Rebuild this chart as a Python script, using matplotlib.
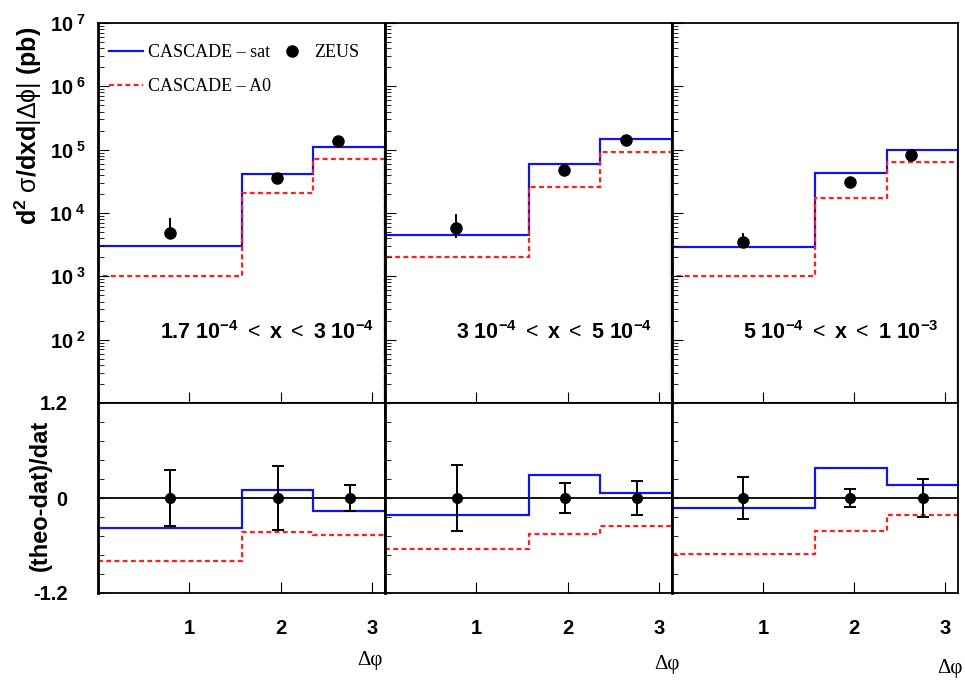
import matplotlib
matplotlib.use('Agg')
import matplotlib.pyplot as plt
from matplotlib.lines import Line2D
from matplotlib.ticker import FixedLocator, MultipleLocator, LogLocator, NullFormatter
import numpy as np

plt.rcParams['font.family'] = ['Liberation Sans', 'DejaVu Sans']
plt.rcParams['mathtext.fontset'] = 'custom'
plt.rcParams['mathtext.rm'] = 'Liberation Sans'
plt.rcParams['mathtext.bf'] = 'Liberation Sans:bold'
plt.rcParams['mathtext.it'] = 'Liberation Sans:italic'
plt.rcParams['mathtext.default'] = 'regular'

# delta phi bins
edges = [0, np.pi / 2, 3 * np.pi / 4, np.pi]

x_ranges = [r'$\mathbf{1.7\ 10^{-4}}\ <\ \mathbf{x}\ <\ \mathbf{3\ 10^{-4}}$',
            r'$\mathbf{3\ 10^{-4}}\ <\ \mathbf{x}\ <\ \mathbf{5\ 10^{-4}}$',
            r'$\mathbf{5\ 10^{-4}}\ <\ \mathbf{x}\ <\ \mathbf{1\ 10^{-3}}$']

# cross sections (pb)
sat_xsec = [[3.0e3, 4.2e4, 1.12e5], [4.5e3, 6.0e4, 1.49e5], [2.95e3, 4.3e4, 1.0e5]]
a0_xsec = [[1.0e3, 2.05e4, 7.1e4], [2.0e3, 2.6e4, 9.1e4], [1.0e3, 1.73e4, 6.5e4]]
zeus_x = [[0.79, 1.96, 2.63], [0.78, 1.96, 2.64], [0.78, 1.96, 2.62]]
zeus_val = [[4.8e3, 3.55e4, 1.35e5], [5.8e3, 4.7e4, 1.42e5], [3.5e3, 3.1e4, 8.3e4]]
zeus_hi = [[8.3e3, 4.1e4, 1.5e5], [9.6e3, 5.1e4, 1.55e5], [4.9e3, 3.4e4, 9.0e4]]
zeus_lo = [[3.9e3, 3.0e4, 1.2e5], [4.1e3, 4.3e4, 1.3e5], [2.9e3, 2.8e4, 7.6e4]]

# (theo-dat)/dat
sat_ratio = [[-0.38, 0.10, -0.17], [-0.21, 0.29, 0.06], [-0.12, 0.38, 0.17]]
a0_ratio = [[-0.79, -0.43, -0.47], [-0.65, -0.455, -0.35], [-0.71, -0.42, -0.22]]
ratio_x = [[0.79, 1.97, 2.76], [0.79, 1.97, 2.76], [0.78, 1.96, 2.76]]
ratio_err = [[0.35, 0.40, 0.17], [0.42, 0.19, 0.22], [0.27, 0.11, 0.24]]

decades = [1e1, 1e2, 1e3, 1e4, 1e5, 1e6, 1e7]
dec_labels = ['', r'$\mathbf{10^{\ 2}}$', r'$\mathbf{10^{\ 3}}$', r'$\mathbf{10^{\ 4}}$',
              r'$\mathbf{10^{\ 5}}$', r'$\mathbf{10^{\ 6}}$', r'$\mathbf{10^{\ 7}}$']

BLUE = '#1414e6'
RED = '#ff1e1e'
DASH = (0, (2.2, 1.5))

W, H = 965, 681
fig = plt.figure(figsize=(W / 100, H / 100), dpi=100)


def px_axes(x0, y0, x1, y1):
    return fig.add_axes([x0 / W, 1 - y1 / H, (x1 - x0) / W, (y1 - y0) / H])


xs = [98, 385, 672, 958]
for i in range(3):
    top = px_axes(xs[i], 23, xs[i + 1], 403)
    bot = px_axes(xs[i], 403, xs[i + 1], 593)

    # upper panel
    top.set_yscale('log')
    top.stairs(sat_xsec[i], edges, baseline=10, color=BLUE, lw=1.6)
    top.stairs(a0_xsec[i], edges, baseline=10, color=RED, lw=1.6, ls=DASH)
    v = np.array(zeus_val[i])
    yerr = [v - np.array(zeus_lo[i]), np.array(zeus_hi[i]) - v]
    top.errorbar(zeus_x[i], v, yerr=yerr, fmt='o', color='black', ms=8,
                 elinewidth=1.4, capsize=0, zorder=5)
    top.set_xlim(0, np.pi)
    top.set_ylim(10, 1e7)
    top.set_xticks([1, 2, 3])
    top.tick_params(axis='x', labelbottom=False, direction='in', length=8)
    top.yaxis.set_major_locator(FixedLocator(decades))
    top.yaxis.set_minor_locator(LogLocator(base=10, subs=np.arange(2, 10)))
    top.yaxis.set_minor_formatter(NullFormatter())
    top.tick_params(axis='y', which='major', direction='in', length=8, pad=9)
    top.tick_params(axis='y', which='minor', direction='in', length=4)
    if i == 0:
        top.set_yticklabels(dec_labels, fontsize=14.5)
    else:
        top.set_yticklabels([''] * len(decades))
    top.text(0.59, 0.185, x_ranges[i], transform=top.transAxes, ha='center',
             va='center', fontsize=15.5)

    # lower panel
    bot.axhline(0, color='black', lw=1.3)
    bot.stairs(sat_ratio[i], edges, baseline=None, color=BLUE, lw=1.6)
    bot.stairs(a0_ratio[i], edges, baseline=None, color=RED, lw=1.6, ls=DASH)
    bot.errorbar(ratio_x[i], np.zeros(3), yerr=ratio_err[i], fmt='o', color='black',
                 ms=7, elinewidth=1.4, capsize=4, capthick=1.4, zorder=5)
    bot.set_xlim(0, np.pi)
    bot.set_ylim(-1.2, 1.2)
    bot.set_xticks([1, 2, 3])
    bot.set_xticklabels(['1', '2', '3'], fontsize=14.5, fontweight='bold')
    bot.tick_params(axis='x', direction='in', length=8, pad=19)
    bot.set_yticks([-1.2, 0, 1.2])
    bot.yaxis.set_minor_locator(MultipleLocator(0.24))
    bot.tick_params(axis='y', which='both', direction='in', length=4, pad=22)
    if i == 0:
        bot.set_yticklabels(['-1.2', '0', '1.2'], fontsize=14.5, fontweight='bold')
    else:
        bot.set_yticklabels(['', '', ''])

    for ax in (top, bot):
        for side in ax.spines:
            ax.spines[side].set_linewidth(1.3)
        ax.spines['left'].set_linewidth(2.0)

    if i == 0:
        handles = [Line2D([], [], color=BLUE, lw=1.6),
                   Line2D([], [], color=RED, lw=1.6, ls=DASH),
                   Line2D([], [], color='black', marker='o', ls='none', ms=8)]
        top.legend(handles, ['CASCADE \u2013 sat', 'CASCADE \u2013 A0', 'ZEUS'],
                   ncol=2, loc='upper left', bbox_to_anchor=(0.04, 0.945),
                   frameon=False, borderpad=0, borderaxespad=0, handlelength=1.85,
                   handletextpad=0.3, columnspacing=0.2, labelspacing=0.95,
                   prop={'family': 'Liberation Serif', 'size': 13})

fig.text(28 / W, 1 - 126 / H, r'$\mathbf{d^{2}}\ \sigma\mathbf{/dxd}|\Delta\phi|\ \mathbf{(pb)}$',
         rotation=90, ha='center', va='center', fontsize=18)
fig.text(40 / W, 1 - 495 / H, '(theo-dat)/dat', rotation=90, ha='center', va='center',
         fontsize=17, fontweight='bold')
for xp, yp in [(370, 660), (667, 665), (950, 668)]:
    fig.text(xp / W, 1 - yp / H, '\u0394\u03c6', ha='center', va='center',
             fontsize=15, family='Liberation Serif')

fig.savefig('out.png', dpi=100)
